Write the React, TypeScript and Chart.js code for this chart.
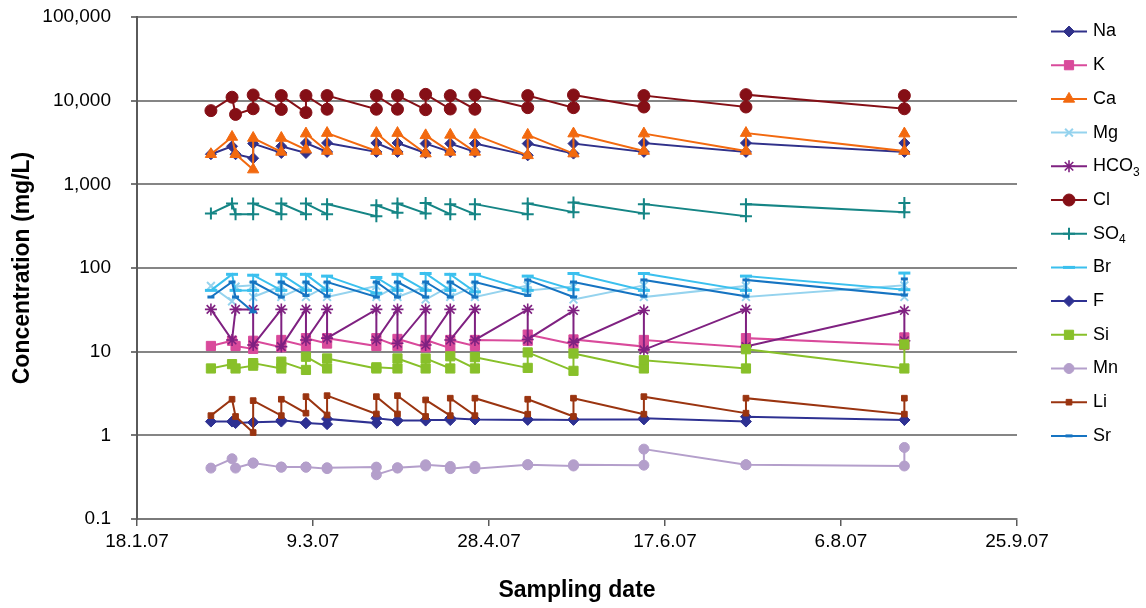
import React, { useEffect, useRef } from "react";
import { Chart, registerables } from "chart.js";
import { drawPoint } from "chart.js/helpers";

Chart.register(...registerables);

const FONT = "'Liberation Sans', Arial, Helvetica, sans-serif";

// ---------- DATA ----------
// Sampling dates in chart order (two samples A/B on most dates)
const sampleDates = [
  "2007-02-08", "2007-02-14", "2007-02-15",
  "2007-02-20", "2007-02-20", "2007-02-28", "2007-02-28",
  "2007-03-07", "2007-03-07", "2007-03-13", "2007-03-13",
  "2007-03-27", "2007-03-27", "2007-04-02", "2007-04-02",
  "2007-04-10", "2007-04-10", "2007-04-17", "2007-04-17",
  "2007-04-24", "2007-04-24", "2007-05-09", "2007-05-09",
  "2007-05-22", "2007-05-22", "2007-06-11", "2007-06-11",
  "2007-07-10", "2007-07-10", "2007-08-24", "2007-08-24",
];

const naValues = [2290, 2850, 2290, 2050, 3070, 2370, 2850, 2370, 3120, 2440, 3120, 2440, 3120, 2440, 3120, 2370, 3070, 2440, 3070, 2440, 3070, 2220, 3070, 2330, 3070, 2440, 3120, 2440, 3120, 2440, 3120];
const kValues = [11.7, 13.5, 11.7, 10.8, 13.5, 11.3, 13.8, 11.7, 14.5, 12.5, 14.5, 11.7, 14.5, 11.7, 14.2, 11.3, 13.8, 11.0, 13.8, 11.7, 13.8, 13.5, 16.0, 12.3, 14.0, 11.5, 13.8, 11.3, 14.5, 12.0, 14.8];
const caValues = [2290, 3680, 2290, 1500, 3580, 2440, 3580, 2600, 4040, 2500, 4100, 2500, 4100, 2500, 4100, 2330, 3850, 2440, 3900, 2440, 3900, 2220, 3900, 2330, 4040, 2500, 4040, 2500, 4100, 2500, 4040];
const mgValues = [61, 40, 60, 62, 45, 61, 45, 61, 45, 61, 45, 61, 45, 61, 45, 60, 42, 61, 45, 61, 45, 62, 54, 60, 42, 62, 45, 61, 45, 62, 45];
const hco3Values = [32, 13.8, 32, 32, 12, 32, 11.5, 32, 13.8, 32, 14.5, 32, 13.8, 32, 12.6, 32, 12, 32, 13.8, 32, 13.8, 32, 14, 31, 13, 31, 10.5, 32, 11.5, 31, 13.5];
const clValues = [7600, 11000, 6850, 8000, 11700, 7850, 11500, 7200, 11500, 7900, 11500, 7900, 11500, 7900, 11500, 7800, 11900, 7950, 11500, 7900, 11700, 8250, 11500, 8250, 11700, 8400, 11500, 8400, 11800, 8000, 11500];
const so4Values = [449, 590, 440, 440, 590, 440, 590, 440, 590, 440, 580, 416, 563, 456, 590, 449, 600, 440, 580, 440, 580, 440, 590, 465, 607, 449, 580, 416, 580, 465, 600];
const brValues = [54, 84, 54, 54, 82, 54, 84, 54, 84, 54, 80, 50, 77, 54, 84, 54, 86, 54, 84, 52, 84, 54, 80, 55, 86, 54, 86, 54, 80, 55, 87];
const fValues = [1.46, 1.46, 1.40, 1.43, 1.43, 1.46, 1.52, 1.40, 1.40, 1.36, 1.57, 1.40, 1.60, 1.50, 1.50, 1.50, 1.52, 1.52, 1.60, 1.55, 1.55, 1.53, 1.55, 1.53, 1.55, 1.55, 1.60, 1.46, 1.67, 1.53, 1.53];
const siValues = [6.3, 7.1, 6.3, 6.8, 7.3, 6.3, 7.6, 6.05, 8.7, 6.3, 8.3, 6.3, 6.5, 6.3, 8.3, 6.3, 8.3, 6.3, 8.8, 6.3, 8.6, 6.4, 9.8, 5.9, 9.5, 6.3, 7.9, 6.3, 10.7, 6.3, 12.2];
const mnValues = [0.406, 0.525, 0.406, 0.466, 0.466, 0.417, 0.417, 0.417, 0.417, 0.40, 0.41, 0.417, 0.338, 0.406, 0.41, 0.43, 0.445, 0.425, 0.40, 0.425, 0.40, 0.445, 0.445, 0.43, 0.445, 0.44, 0.684, 0.445, 0.445, 0.43, 0.716];
const liValues = [1.72, 2.7, 1.68, 1.08, 2.6, 1.72, 2.7, 1.84, 2.9, 1.75, 2.98, 1.8, 2.9, 1.8, 2.98, 1.68, 2.65, 1.72, 2.78, 1.72, 2.78, 1.79, 2.7, 1.68, 2.78, 1.79, 2.9, 1.84, 2.78, 1.79, 2.78];
const srValues = [45, 68, 45, 30, 68, 45, 68, 47, 68, 46, 68, 45, 68, 45, 68, 45, 68, 45, 68, 45, 68, 47, 72, 45, 68, 46, 72, 46, 72, 47.5, 74];

const xAxisStart = "2007-01-18";
const xAxisEndDays = 250;
const xTickStepDays = 50;
const xTickLabels = ["18.1.07", "9.3.07", "28.4.07", "17.6.07", "6.8.07", "25.9.07"];
const yTickValues = [0.1, 1, 10, 100, 1000, 10000, 100000];
const yTickLabels = ["0.1", "1", "10", "100", "1,000", "10,000", "100,000"];

// ---------- STYLES ----------
type Series = {
  label: string;
  sub?: string;
  values: number[];
  color: string;
  pointStyle: string;
  radius: number;
  pointBorder: number;
};

const seriesList: Series[] = [
  { label: "Na", values: naValues, color: "#30318A", pointStyle: "rectRot", radius: 5.5, pointBorder: 1 },
  { label: "K", values: kValues, color: "#D94A9B", pointStyle: "rect", radius: 6.5, pointBorder: 1 },
  { label: "Ca", values: caValues, color: "#F2690F", pointStyle: "triangle", radius: 6.5, pointBorder: 1 },
  { label: "Mg", values: mgValues, color: "#95D3EE", pointStyle: "crossRot", radius: 5.5, pointBorder: 2 },
  { label: "HCO", sub: "3", values: hco3Values, color: "#7F2181", pointStyle: "star", radius: 6, pointBorder: 1.6 },
  { label: "Cl", values: clValues, color: "#850F16", pointStyle: "circle", radius: 6, pointBorder: 1 },
  { label: "SO", sub: "4", values: so4Values, color: "#158585", pointStyle: "cross", radius: 6, pointBorder: 2 },
  { label: "Br", values: brValues, color: "#3BC0EE", pointStyle: "line", radius: 6, pointBorder: 3 },
  { label: "F", values: fValues, color: "#2E3192", pointStyle: "rectRot", radius: 5.5, pointBorder: 1 },
  { label: "Si", values: siValues, color: "#88C02A", pointStyle: "rect", radius: 6.5, pointBorder: 1 },
  { label: "Mn", values: mnValues, color: "#B49FCB", pointStyle: "circle", radius: 5, pointBorder: 1 },
  { label: "Li", values: liValues, color: "#9A3410", pointStyle: "rect", radius: 4, pointBorder: 1 },
  { label: "Sr", values: srValues, color: "#1674C2", pointStyle: "line", radius: 3.5, pointBorder: 3 },
];

const DAY_MS = 86400000;
const startMs = Date.parse(xAxisStart);
const dayOffsets = sampleDates.map((d) => Math.round((Date.parse(d) - startMs) / DAY_MS));

const LEGEND = { lineX0: 1051, lineX1: 1087, markerX: 1069, textX: 1093, top: 31.5, step: 33.7 };

const legendPlugin = {
  id: "excelLegend",
  afterDraw(chart: any) {
    const ctx = chart.ctx as CanvasRenderingContext2D;
    seriesList.forEach((s, i) => {
      const y = LEGEND.top + i * LEGEND.step;
      ctx.save();
      ctx.strokeStyle = s.color;
      ctx.lineWidth = 2;
      ctx.beginPath();
      ctx.moveTo(LEGEND.lineX0, y);
      ctx.lineTo(LEGEND.lineX1, y);
      ctx.stroke();
      ctx.fillStyle = s.color;
      ctx.strokeStyle = s.color;
      ctx.lineWidth = s.pointBorder;
      drawPoint(ctx, { pointStyle: s.pointStyle as any, radius: s.radius, borderWidth: s.pointBorder, rotation: 0 }, LEGEND.markerX, y);
      ctx.fillStyle = "#000";
      ctx.font = `18px ${FONT}`;
      ctx.textBaseline = "middle";
      ctx.textAlign = "left";
      ctx.fillText(s.label, LEGEND.textX, y);
      if (s.sub) {
        const w = ctx.measureText(s.label).width;
        ctx.font = `12px ${FONT}`;
        ctx.fillText(s.sub, LEGEND.textX + w, y + 6);
      }
      ctx.restore();
    });
  },
};

export default function App() {
  const canvasRef = useRef<HTMLCanvasElement | null>(null);

  useEffect(() => {
    if (!canvasRef.current) return;
    const n = seriesList.length;
    const chart = new Chart(canvasRef.current, {
      type: "line",
      data: {
        datasets: seriesList.map((s, i) => ({
          label: s.sub ? s.label + s.sub : s.label,
          data: s.values.map((v, k) => ({ x: dayOffsets[k], y: v })),
          borderColor: s.color,
          backgroundColor: s.color,
          pointBackgroundColor: s.color,
          pointBorderColor: s.color,
          pointStyle: s.pointStyle as any,
          pointRadius: s.radius,
          pointBorderWidth: s.pointBorder,
          borderWidth: 2,
          tension: 0,
          fill: false,
          order: n - 1 - i,
        })),
      },
      options: {
        responsive: false,
        animation: false,
        events: [],
        layout: { padding: { top: 17, right: 129, left: 0, bottom: 0 } },
        plugins: {
          legend: { display: false },
          tooltip: { enabled: false },
        },
        scales: {
          x: {
            type: "linear",
            min: 0,
            max: xAxisEndDays,
            afterBuildTicks: (scale: any) => {
              scale.ticks = xTickLabels.map((_, i) => ({ value: i * xTickStepDays }));
            },
            ticks: {
              callback: (_v: any, idx: number) => xTickLabels[idx] ?? "",
              font: { family: FONT, size: 19 },
              color: "#000",
              padding: 4,
              maxRotation: 0,
              autoSkip: false,
            },
            grid: { drawOnChartArea: false, drawTicks: true, tickLength: 7, color: "#5a5a5a", lineWidth: 1.5 },
            border: { display: true, color: "#7a7a7a", width: 2 },
            title: {
              display: true,
              text: "Sampling date",
              font: { family: FONT, size: 23, weight: "bold" },
              color: "#000",
              padding: { top: 0, bottom: 4 },
            },
            afterFit: (scale: any) => {
              scale.height = 89;
              scale.paddingLeft = 0;
              scale.paddingRight = 0;
            },
          },
          y: {
            type: "logarithmic",
            min: 0.1,
            max: 100000,
            afterBuildTicks: (scale: any) => {
              scale.ticks = yTickValues.map((v) => ({ value: v }));
            },
            ticks: {
              callback: (_v: any, idx: number) => yTickLabels[idx] ?? "",
              font: { family: FONT, size: 19 },
              color: "#000",
              padding: 20,
              autoSkip: false,
            },
            grid: { color: "#858585", lineWidth: 2, tickLength: 6, tickColor: "#4a4a4a", tickWidth: 1.5 },
            border: { display: true, color: "#5a5a5a", width: 2 },
            title: {
              display: true,
              text: "Concentration (mg/L)",
              font: { family: FONT, size: 23, weight: "bold" },
              color: "#000",
              padding: { top: 9, bottom: 0 },
            },
            afterFit: (scale: any) => {
              scale.width = 137;
              scale.paddingTop = 0;
              scale.paddingBottom = 0;
            },
          },
        },
      } as any,
      plugins: [legendPlugin],
    });
    return () => chart.destroy();
  }, []);

  return (
    <div style={{ position: "fixed", left: 0, top: 0, width: 1146, height: 608, background: "#fff" }}>
      <canvas ref={canvasRef} width={1146} height={608} style={{ display: "block", width: 1146, height: 608 }} />
    </div>
  );
}
